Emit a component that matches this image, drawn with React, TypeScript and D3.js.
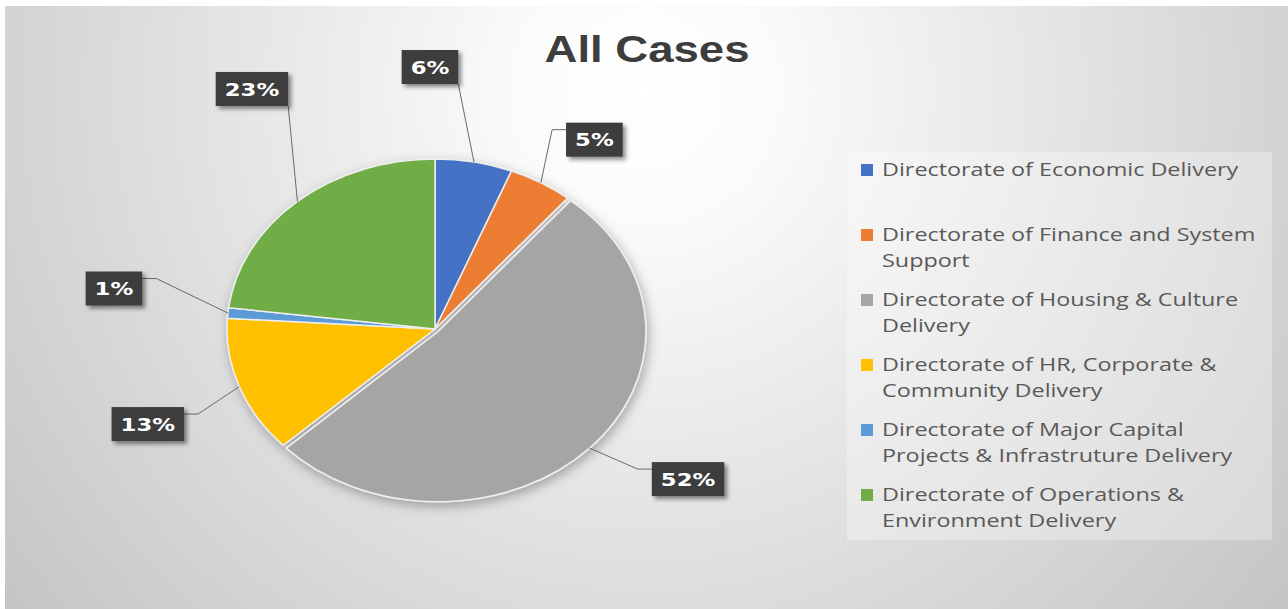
import React, { useMemo } from "react";
import * as d3 from "d3";

const title = "All Cases";
const categories = [
  "Directorate of Economic Delivery",
  "Directorate of Finance and System Support",
  "Directorate of Housing & Culture Delivery",
  "Directorate of HR, Corporate & Community Delivery",
  "Directorate of Major Capital Projects & Infrastruture Delivery",
  "Directorate of Operations & Environment Delivery",
];
const shares = [6, 5, 52, 13, 1, 23];
const colors = ["#4472C4", "#ED7D31", "#A5A5A5", "#FFC000", "#5B9BD5", "#70AD47"];
const explode = [0, 0, 4, 0, 0, 0];
// label centre offset from the leader anchor on the slice edge
const labelOffsets: [number, number][] = [
  [-44, -95],
  [53.5, -43],
  [98.5, 31],
  [-91.5, 37.5],
  [-114, -24.5],
  [-45.5, -112.5],
];

const W = 1288;
const H = 609;
const SX = 1.23; // horizontal stretch of the original picture
const CX = 435;
const CY = 329;
const RX = 208;
const RY = 170;

const LABEL_FONT = 'bold 18.5px "DejaVu Sans"';
const LEGEND_FONT = '19px "Open Sans"';

let ctx: CanvasRenderingContext2D | null = null;
function measure(text: string, font: string): number {
  if (!ctx) ctx = document.createElement("canvas").getContext("2d");
  if (!ctx) return text.length * 10;
  ctx.font = font;
  return ctx.measureText(text).width;
}

function wrap(text: string, maxW: number): string[] {
  const words = text.split(" ");
  const lines: string[] = [];
  let cur = "";
  for (const w of words) {
    const t = cur ? cur + " " + w : w;
    if (cur && measure(t, LEGEND_FONT) * SX > maxW) {
      lines.push(cur);
      cur = w;
    } else cur = t;
  }
  if (cur) lines.push(cur);
  return lines;
}

export default function App() {
  const model = useMemo(() => {
    const arcs = d3
      .pie<number>()
      .sort(null)
      .startAngle(0)
      .endAngle(2 * Math.PI)
      .value((d) => d)(shares);
    const arcGen = d3.arc<d3.PieArcDatum<number>>().innerRadius(0).outerRadius(RY);
    const total = d3.sum(shares);
    const fmt = d3.format(".0%");
    return arcs.map((a, i) => {
      const mid = (a.startAngle + a.endAngle) / 2;
      const ex = explode[i] * Math.sin(mid);
      const ey = -explode[i] * Math.cos(mid);
      const ax = CX + ex + RX * Math.sin(mid);
      const ay = CY + ey - RY * Math.cos(mid);
      const text = fmt(shares[i] / total);
      const tw = measure(text, LABEL_FONT) * SX;
      const bw = tw + 18;
      const bh = 34;
      const lcx = ax + labelOffsets[i][0];
      const lcy = ay + labelOffsets[i][1];
      const bx = lcx - bw / 2;
      const by = lcy - bh / 2;
      let pts: [number, number][];
      const dx = lcx - ax;
      const dy = lcy - ay;
      if (Math.abs(dx) > Math.abs(dy)) {
        const edgeX = dx > 0 ? bx : bx + bw;
        const elbowX = dx > 0 ? edgeX - 14 : edgeX + 14;
        const yy = by + 7;
        pts = [
          [ax, ay],
          [elbowX, yy],
          [edgeX, yy],
        ];
      } else {
        const cornerX = ax > lcx ? bx + bw : bx;
        const cornerY = dy < 0 ? by + bh : by;
        pts = [
          [ax, ay],
          [cornerX, cornerY],
        ];
      }
      return {
        path: arcGen(a) || "",
        tx: CX + ex,
        ty: CY + ey,
        color: colors[i],
        text,
        bx,
        by,
        bw,
        bh,
        lcx,
        lcy,
        pts,
      };
    });
  }, []);

  const legend = useMemo(() => categories.map((c) => wrap(c, 385)), []);

  const legendX = 847;
  const legendY = 152;
  const firstBase = 176;
  const entryGap = 65;
  const lineGap = 26;

  return (
    <svg
      width={W}
      height={H}
      style={{ position: "absolute", left: 0, top: 0, display: "block" }}
    >
      <defs>
        <radialGradient id="bg" gradientUnits="userSpaceOnUse" cx={645} cy={90} r={830}>
          <stop offset="0" stopColor="#ffffff" />
          <stop offset="0.15" stopColor="#fbfbfb" />
          <stop offset="1" stopColor="#c4c4c4" />
        </radialGradient>
        <filter id="pieShadow" x="-20%" y="-20%" width="140%" height="140%">
          <feDropShadow dx="2" dy="4" stdDeviation="6" floodColor="#000" floodOpacity="0.3" />
        </filter>
        <filter id="boxShadow" x="-30%" y="-30%" width="160%" height="160%">
          <feDropShadow dx="3" dy="3" stdDeviation="2" floodColor="#000" floodOpacity="0.45" />
        </filter>
      </defs>
      <rect x={0} y={0} width={W} height={H} fill="#ffffff" />
      <rect x={5} y={6} width={W - 5} height={H - 6} fill="url(#bg)" />

      <text
        transform={`translate(${647},${62}) scale(${SX},1)`}
        textAnchor="middle"
        fontFamily='"Liberation Sans", Arial, sans-serif'
        fontWeight="bold"
        fontSize={37}
        fill="#3d3d3d"
      >
        {title}
      </text>

      <g filter="url(#pieShadow)">
        {model.map((m, i) => (
          <path
            key={i}
            d={m.path}
            transform={`translate(${m.tx},${m.ty}) scale(${RX / RY},1)`}
            fill={m.color}
            stroke="#eeeeee"
            strokeWidth={1.5}
            vectorEffect="non-scaling-stroke"
          />
        ))}
      </g>

      {model.map((m, i) => (
        <g key={"l" + i}>
          <polyline
            points={m.pts.map((p) => p.join(",")).join(" ")}
            fill="none"
            stroke="#6a6a6a"
            strokeWidth={1}
          />
          <rect
            x={m.bx}
            y={m.by}
            width={m.bw}
            height={m.bh}
            fill="#3d3d3d"
            filter="url(#boxShadow)"
          />
          <text
            transform={`translate(${m.lcx},${m.lcy + 6.7}) scale(${SX},1)`}
            textAnchor="middle"
            fontFamily='"DejaVu Sans", sans-serif'
            fontWeight="bold"
            fontSize={18.5}
            fill="#ffffff"
          >
            {m.text}
          </text>
        </g>
      ))}

      <rect x={legendX} y={legendY} width={425} height={388} fill="#ffffff" opacity={0.3} />
      {legend.map((lines, i) => {
        const base = firstBase + i * entryGap;
        return (
          <g key={"g" + i}>
            <rect x={861} y={base - 12} width={12} height={12} fill={colors[i]} />
            {lines.map((ln, j) => (
              <text
                key={j}
                transform={`translate(${882},${base + j * lineGap}) scale(${SX},1)`}
                fontFamily='"Open Sans", sans-serif'
                fontSize={19}
                fill="#595959"
              >
                {ln}
              </text>
            ))}
          </g>
        );
      })}
    </svg>
  );
}
